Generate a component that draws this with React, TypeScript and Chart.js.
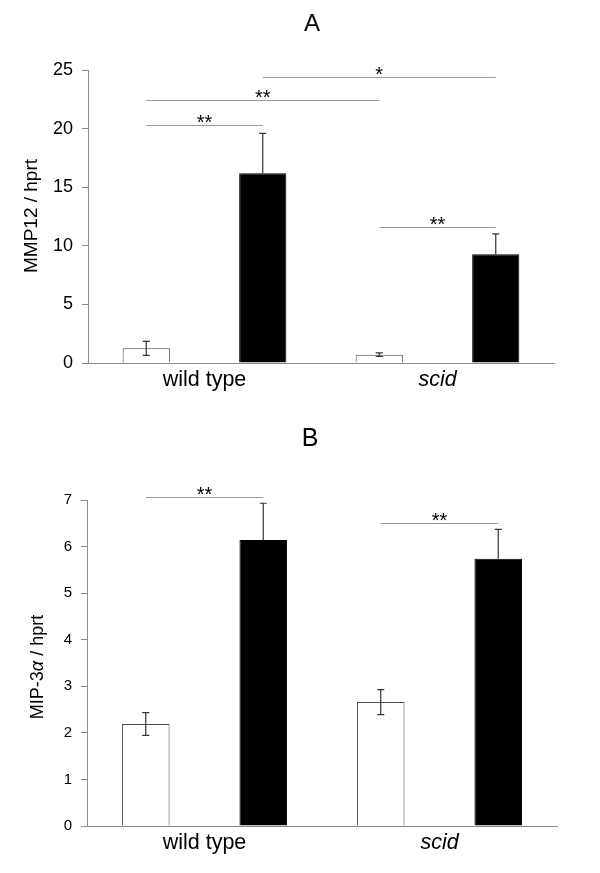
import React, { useEffect, useRef } from 'react';
import { Chart, registerables } from 'chart.js';
Chart.register(...registerables);

const FONT = '"Liberation Sans", Arial, Helvetica, sans-serif';

const categories = ['wild type', 'scid'];

// Panel A: MMP12 / hprt
const mmpControl = [1.25, 0.71];
const mmpControlErr = [0.6, 0.15];
const mmpTreated = [16.2, 9.27];
const mmpTreatedErr = [3.4, 1.75];
const mmpMax = 25;
const mmpStep = 5;
// significance brackets: [dataset, category] -> [dataset, category], level, label
const mmpSigFrom = [[1, 0], [0, 0], [0, 0], [0, 1]];
const mmpSigTo = [[1, 1], [0, 1], [1, 0], [1, 1]];
const mmpSigLevel = [24.4, 22.4, 20.3, 11.6];
const mmpSigLabel = ['*', '**', '**', '**'];

// Panel B: MIP-3α / hprt
const mipControl = [2.19, 2.66];
const mipControlErr = [0.245, 0.27];
const mipTreated = [6.14, 5.74];
const mipTreatedErr = [0.79, 0.63];
const mipMax = 7;
const mipStep = 1;
const mipSigFrom = [[0, 0], [0, 1]];
const mipSigTo = [[1, 0], [1, 1]];
const mipSigLevel = [7.06, 6.51];
const mipSigLabel = ['**', '**'];

type Seg = { text: string; italic?: boolean };

type Panel = {
  letter: string;
  letterX: number;
  letterY: number;
  letterSize: number;
  yTitle: Seg[];
  yTitleX: number;
  yTitleY: number;
  yTitleSize: number;
  control: number[];
  controlErr: number[];
  treated: number[];
  treatedErr: number[];
  max: number;
  step: number;
  sigFrom: number[][];
  sigTo: number[][];
  sigLevel: number[];
  sigLabel: string[];
  yW: number;
  padR: number;
  padT: number;
  padB: number;
  xH: number;
  tickFont: number;
  catFont: number;
};

function makeChart(canvas: HTMLCanvasElement, p: Panel) {
  const annot = {
    id: 'annot' + p.letter,
    afterDatasetsDraw(chart: any) {
      const ctx = chart.ctx;
      const ys = chart.scales.y;
      const errs = [p.controlErr, p.treatedErr];
      const vals = [p.control, p.treated];
      ctx.save();
      // error bars (lower whisker hidden inside the black bars)
      ctx.strokeStyle = '#333';
      ctx.lineWidth = 1.2;
      for (let d = 0; d < 2; d++) {
        const meta = chart.getDatasetMeta(d);
        meta.data.forEach((bar: any, j: number) => {
          const v = vals[d][j];
          const e = errs[d][j];
          const x = bar.x;
          const yt = ys.getPixelForValue(v + e);
          const yb = d === 0 ? ys.getPixelForValue(Math.max(0, v - e)) : ys.getPixelForValue(v);
          ctx.beginPath();
          ctx.moveTo(x, yt);
          ctx.lineTo(x, yb);
          ctx.moveTo(x - 3.5, yt);
          ctx.lineTo(x + 3.5, yt);
          if (d === 0) {
            ctx.moveTo(x - 3.5, yb);
            ctx.lineTo(x + 3.5, yb);
          }
          ctx.stroke();
        });
      }
      // significance lines
      ctx.strokeStyle = '#9a9a9a';
      ctx.lineWidth = 1;
      ctx.fillStyle = '#000';
      ctx.font = `20px ${FONT}`;
      ctx.textAlign = 'center';
      ctx.textBaseline = 'alphabetic';
      p.sigLevel.forEach((lvl, k) => {
        const a = chart.getDatasetMeta(p.sigFrom[k][0]).data[p.sigFrom[k][1]] as any;
        const b = chart.getDatasetMeta(p.sigTo[k][0]).data[p.sigTo[k][1]] as any;
        const y = Math.round(ys.getPixelForValue(lvl)) + 0.5;
        ctx.beginPath();
        ctx.moveTo(a.x, y);
        ctx.lineTo(b.x, y);
        ctx.stroke();
        ctx.fillText(p.sigLabel[k], (a.x + b.x) / 2, y + 3);
      });
      // panel letter
      ctx.font = `${p.letterSize}px ${FONT}`;
      ctx.textBaseline = 'middle';
      ctx.fillText(p.letter, p.letterX, p.letterY);
      // y-axis title (rotated, mixed style)
      ctx.translate(p.yTitleX, p.yTitleY);
      ctx.rotate(-Math.PI / 2);
      const fonts = p.yTitle.map(s => `${s.italic ? 'italic ' : ''}${p.yTitleSize}px ${FONT}`);
      let total = 0;
      const widths = p.yTitle.map((s, i) => {
        ctx.font = fonts[i];
        const w = ctx.measureText(s.text).width;
        total += w;
        return w;
      });
      let x = -total / 2;
      ctx.textAlign = 'left';
      p.yTitle.forEach((s, i) => {
        ctx.font = fonts[i];
        ctx.fillText(s.text, x, 0);
        x += widths[i];
      });
      ctx.restore();
    },
  };

  return new Chart(canvas, {
    type: 'bar',
    data: {
      labels: categories,
      datasets: [
        {
          data: p.control,
          backgroundColor: '#ffffff',
          borderColor: '#4a4a4a',
          borderWidth: 1,
          barPercentage: 0.405,
          categoryPercentage: 1.0,
        },
        {
          data: p.treated,
          backgroundColor: '#000000',
          borderColor: '#000000',
          borderWidth: 1,
          barPercentage: 0.405,
          categoryPercentage: 1.0,
        },
      ],
    },
    options: {
      animation: false,
      responsive: false,
      events: [],
      layout: { padding: { left: 0, right: p.padR, top: p.padT, bottom: p.padB } },
      plugins: {
        legend: { display: false },
        tooltip: { enabled: false },
        title: { display: false },
      },
      scales: {
        x: {
          grid: { display: false, drawTicks: false },
          border: { display: true, color: '#8c8c8c', width: 1 },
          ticks: {
            color: '#000',
            padding: 4,
            font: (c: any) => ({
              family: FONT,
              size: p.catFont,
              style: c.index === 1 ? 'italic' : 'normal',
            }),
          },
          afterFit: (s: any) => {
            s.height = p.xH;
          },
        },
        y: {
          min: 0,
          max: p.max,
          ticks: {
            stepSize: p.step,
            color: '#000',
            padding: 9,
            font: { family: FONT, size: p.tickFont },
          },
          grid: {
            drawOnChartArea: false,
            drawTicks: true,
            tickLength: 6,
            color: '#8c8c8c',
          },
          border: { display: true, color: '#8c8c8c', width: 1 },
          afterFit: (s: any) => {
            s.width = p.yW;
          },
        },
      },
    } as any,
    plugins: [annot],
  });
}

const panelA: Panel = {
  letter: 'A',
  letterX: 312,
  letterY: 24,
  letterSize: 24,
  yTitle: [{ text: 'MMP12 / hprt' }],
  yTitleX: 32,
  yTitleY: 216,
  yTitleSize: 19,
  control: mmpControl,
  controlErr: mmpControlErr,
  treated: mmpTreated,
  treatedErr: mmpTreatedErr,
  max: mmpMax,
  step: mmpStep,
  sigFrom: mmpSigFrom,
  sigTo: mmpSigTo,
  sigLevel: mmpSigLevel,
  sigLabel: mmpSigLabel,
  yW: 88,
  padR: 46,
  padT: 70,
  padB: 27,
  xH: 30,
  tickFont: 18,
  catFont: 21.5,
};

const panelB: Panel = {
  letter: 'B',
  letterX: 310,
  letterY: 19,
  letterSize: 25,
  yTitle: [{ text: 'MIP-3' }, { text: 'α', italic: true }, { text: ' / hprt' }],
  yTitleX: 38,
  yTitleY: 247,
  yTitleSize: 18,
  control: mipControl,
  controlErr: mipControlErr,
  treated: mipTreated,
  treatedErr: mipTreatedErr,
  max: mipMax,
  step: mipStep,
  sigFrom: mipSigFrom,
  sigTo: mipSigTo,
  sigLevel: mipSigLevel,
  sigLabel: mipSigLabel,
  yW: 87,
  padR: 43,
  padT: 80,
  padB: 17,
  xH: 30,
  tickFont: 15,
  catFont: 21.5,
};

export default function App() {
  const refA = useRef<HTMLCanvasElement>(null);
  const refB = useRef<HTMLCanvasElement>(null);
  useEffect(() => {
    const a = makeChart(refA.current!, panelA);
    const b = makeChart(refB.current!, panelB);
    return () => {
      a.destroy();
      b.destroy();
    };
  }, []);
  return (
    <div style={{ position: 'absolute', left: 0, top: 0, width: 600, height: 873, background: '#fff' }}>
      <canvas ref={refA} width={600} height={420} style={{ position: 'absolute', left: 0, top: 0, width: 600, height: 420 }} />
      <canvas ref={refB} width={600} height={453} style={{ position: 'absolute', left: 0, top: 420, width: 600, height: 453 }} />
    </div>
  );
}
